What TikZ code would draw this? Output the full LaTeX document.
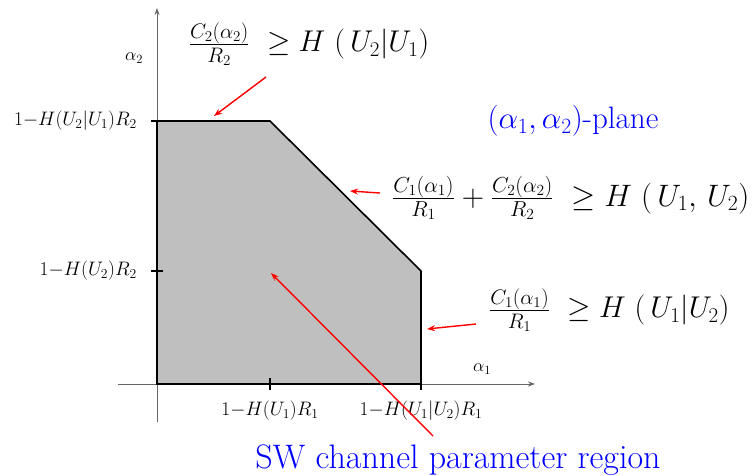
\RequirePackage{fix-cm}
\documentclass[tikz,border=0pt]{standalone}
\usetikzlibrary{arrows.meta}
\begin{document}
\begin{tikzpicture}[x=1pt,y=-1pt,
  axis/.style={draw=black!60,line width=0.9pt,-{Stealth[length=7pt,width=5pt]}},
  region/.style={fill=black!25,draw=black,line width=1.6pt,line join=miter},
  tick/.style={draw=black,line width=1.4pt},
  ticklbl/.style={font=\fontsize{19.5}{21}\selectfont,inner sep=0pt},
  axlbl/.style={font=\fontsize{18}{20}\selectfont,inner sep=0pt},
  formula/.style={font=\fontsize{30}{33}\selectfont,inner sep=0pt},
  bluelbl/.style={font=\fontsize{31}{34}\selectfont,text=blue,inner sep=0pt},
  swlbl/.style={font=\fontsize{34}{38}\selectfont,text=blue,inner sep=0pt},
  pointer/.style={draw=red,line width=1.4pt,-{Stealth[length=8pt,width=6pt]}}]
\useasboundingbox (0,0) rectangle (756,475);
% axes
\coordinate (xs) at (118,384); \coordinate (xe) at (535,384);
\coordinate (ys) at (157,422); \coordinate (ye) at (157,8);
\draw[axis] (xs) -- (xe);
\draw[axis] (ys) -- (ye);
% region
\coordinate (O) at (157,384);
\coordinate (A) at (157,121);
\coordinate (B) at (270,121);
\coordinate (C) at (421,271);
\coordinate (D) at (421,384);
\draw[region] (O) -- (A) -- (B) -- (C) -- (D) -- cycle;
% ticks
\draw[tick] (270,378) -- (270,390);
\draw[tick] (421,378) -- (421,390);
\draw[tick] (151,121) -- (163,121);
\draw[tick] (151,271) -- (163,271);
% tick labels
\node[ticklbl,anchor=east] (ty2) at (137,121) {$1{-}H(U_2|U_1)R_2$};
\node[ticklbl,anchor=east] (ty1) at (137,271) {$1{-}H(U_2)R_2$};
\node[ticklbl] (tx1) at (270,411) {$1{-}H(U_1)R_1$};
\node[ticklbl] (tx2) at (421,411) {$1{-}H(U_1|U_2)R_1$};
\node[axlbl] (a2) at (134,58) {$\alpha_2$};
\node[axlbl] (a1) at (482,369) {$\alpha_1$};
% formulas
\node[formula] (f1) at (309,44) {$\frac{C_2(\alpha_2)}{R_2}\ \ge H\ (\,U_2|U_1)$};
\node[formula,anchor=west,font=\fontsize{31}{34}\selectfont] (f2) at (392,198) {$\frac{C_1(\alpha_1)}{R_1}+\frac{C_2(\alpha_2)}{R_2}\ \ge H\ (\,U_1,\,U_2)$};
\node[formula,anchor=west] (f3) at (489,310) {$\frac{C_1(\alpha_1)}{R_1}\ \ge H\ (\,U_1|U_2)$};
\node[bluelbl] (pl) at (573,121) {$(\alpha_1,\alpha_2)$-plane};
\node[swlbl] (sw) at (458,460) {SW channel parameter region};
% pointers
\coordinate (p1s) at (266,77); \coordinate (p1e) at (214,116);
\coordinate (p2s) at (380,193); \coordinate (p2e) at (350,191);
\coordinate (p3s) at (476,324); \coordinate (p3e) at (427,329);
\coordinate (p4s) at (433,436); \coordinate (p4e) at (271,273);
\draw[pointer] (p1s) -- (p1e);
\draw[pointer] (p2s) -- (p2e);
\draw[pointer] (p3s) -- (p3e);
\draw[pointer] (p4s) -- (p4e);
\end{tikzpicture}
\end{document}
